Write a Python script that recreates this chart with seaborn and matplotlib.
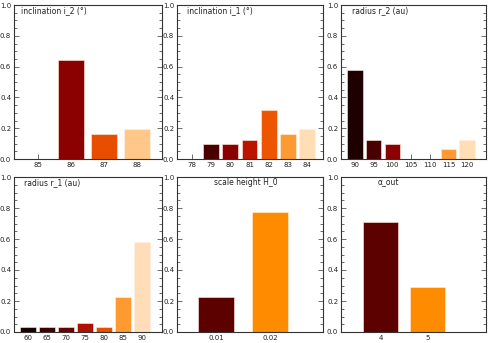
import matplotlib
matplotlib.use("Agg")
import matplotlib.pyplot as plt
import seaborn as sns
import pandas as pd
from matplotlib.ticker import MultipleLocator

sns.set_theme(style="white")
plt.rcParams['font.family'] = ['DejaVu Sans']

# ---- data ----
i2_cats = ["85", "86", "87", "88"]
i2_vals = [0.0, 0.645, 0.16, 0.195]
i2_cols = ["#C02000", "#8B0000", "#E84E00", "#FFC88A"]

i1_cats = ["78", "79", "80", "81", "82", "83", "84"]
i1_vals = [0.0, 0.095, 0.095, 0.125, 0.32, 0.16, 0.195]
i1_cols = ["#200000", "#4A0000", "#8B0000", "#BB1500", "#EE5500", "#FF9A33", "#FFDDB5"]

r2_cats = ["90", "95", "100", "105", "110", "115", "120"]
r2_vals = [0.58, 0.125, 0.095, 0.0, 0.0, 0.065, 0.125]
r2_cols = ["#1E0000", "#4A0000", "#8B0000", "#BB1500", "#EE5500", "#FF9A33", "#FFDDB5"]

r1_cats = ["60", "65", "70", "75", "80", "85", "90"]
r1_vals = [0.03, 0.03, 0.03, 0.06, 0.03, 0.225, 0.58]
r1_cols = ["#1A0000", "#3C0000", "#6A0000", "#B01000", "#E85000", "#FF9A30", "#FFDDB8"]

h0_cats = ["0.01", "0.02"]
h0_vals = [0.225, 0.775]
h0_cols = ["#5C0000", "#FF8C00"]

a_cats = ["4", "5"]
a_vals = [0.71, 0.29]
a_cols = ["#5C0000", "#FF8C00"]

panels = [
    ("inclination i_2 (°)", i2_cats, i2_vals, i2_cols, 0.80, (-0.73, 3.76), 0.05),
    ("inclination i_1 (°)", i1_cats, i1_vals, i1_cols, 0.83, (-0.78, 6.83), 0.07),
    ("radius r_2 (au)", r2_cats, r2_vals, r2_cols, 0.83, (-0.74, 7.0), 0.075),
    ("radius r_1 (au)", r1_cats, r1_vals, r1_cols, 0.83, (-0.73, 7.04), 0.065),
    ("scale height H_0", h0_cats, h0_vals, h0_cols, 0.65, (-0.72, 1.98), 0.25),
    ("α_out", a_cats, a_vals, a_cols, 0.73, (-0.84, 2.24), 0.25),
]

W, H = 491, 343
fig = plt.figure(figsize=(W / 100, H / 100), dpi=100)

cols_px = [(14, 162), (177, 323), (341, 486)]
rows_px = [(5, 159), (177, 332)]

for k, (title, cats, vals, colors, width, xlim, tx) in enumerate(panels):
    r, c = divmod(k, 3)
    x0, x1 = cols_px[c]
    y0, y1 = rows_px[r]
    ax = fig.add_axes([x0 / W, 1 - y1 / H, (x1 - x0) / W, (y1 - y0) / H])
    df = pd.DataFrame({"cat": cats, "val": vals})
    sns.barplot(data=df, x="cat", y="val", hue="cat", palette=colors,
                order=cats, hue_order=cats, width=width, legend=False,
                edgecolor="#FFF0E0", linewidth=0.4, saturation=1, ax=ax)
    ax.set_xlim(*xlim)
    ax.set_ylim(0, 1.0)
    ax.set_xlabel("")
    ax.set_ylabel("")
    ax.yaxis.set_minor_locator(MultipleLocator(0.05))
    ax.set_yticks([0, 0.2, 0.4, 0.6, 0.8, 1.0])
    ax.set_yticklabels(["0.0", "0.2", "0.4", "0.6", "0.8", "1.0"])
    ax.tick_params(axis="y", which="both", direction="in", left=True, right=True,
                   colors="#555555", labelcolor="#222222", labelsize=5, width=0.6, pad=2)
    ax.tick_params(axis="x", which="both", direction="in", bottom=True, top=False,
                   colors="#555555", labelcolor="#222222", labelsize=5, width=0.6, pad=2)
    ax.tick_params(axis="both", which="major", length=3.5)
    ax.tick_params(axis="y", which="minor", length=2)
    for s in ax.spines.values():
        s.set_visible(True)
        s.set_color("#333333")
        s.set_linewidth(0.8)
    ax.text(tx, 0.965, title, transform=ax.transAxes, ha="left", va="center",
            fontsize=5.5, color="#222222")

fig.savefig("out.png", dpi=100)
